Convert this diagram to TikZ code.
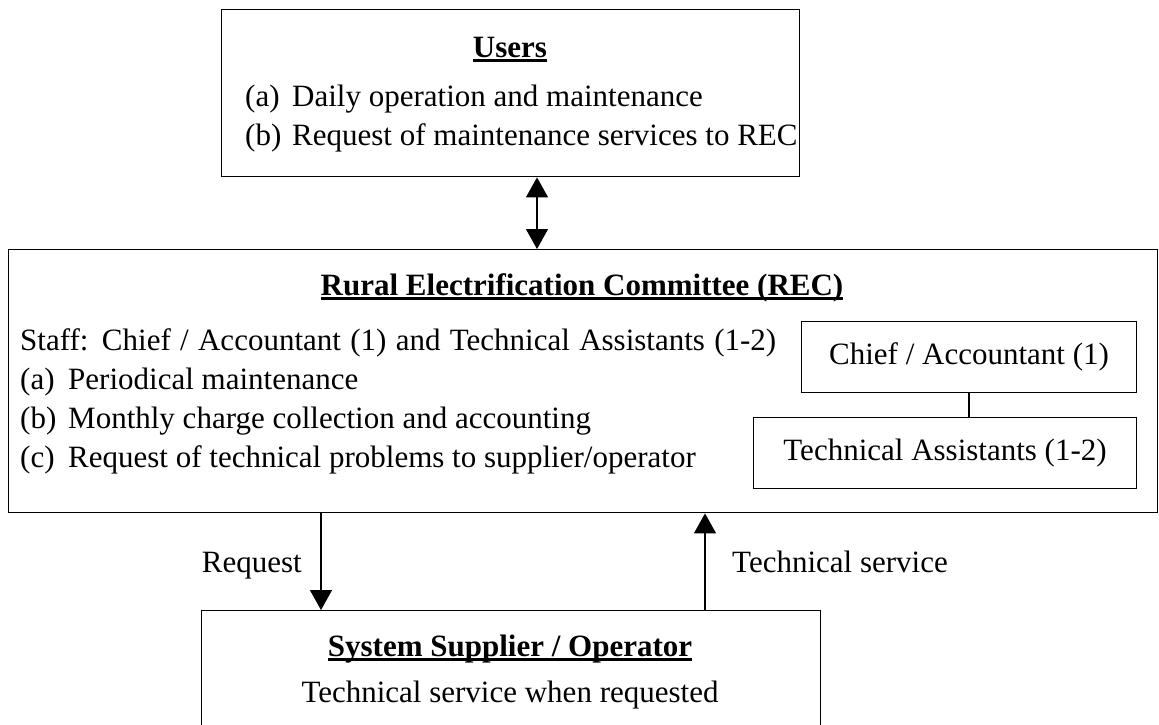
\documentclass[tikz,border=0pt]{standalone}
\usepackage{fontspec}
\setmainfont{Liberation Serif}
\usetikzlibrary{arrows.meta}
% bold heading with a heavy underline
\newcommand{\headline}[1]{\setbox0\hbox{\bfseries #1}\rlap{\rule[-5pt]{\wd0}{2.8pt}}\box0}
\begin{document}
\begin{tikzpicture}[x=1pt,y=-1pt,
  box/.style={draw,line width=1.4pt,inner sep=0pt,anchor=north west},
  txt/.style={inner sep=0pt,font=\fontsize{31}{38}\selectfont},
  conn/.style={line width=1.3pt},
  tip/.style={-{Triangle[width=22pt,length=20pt]}}]
\clip (0,0) rectangle (1159,724);
\fill[white] (0,0) rectangle (1159,724);

% Users
\node[box,minimum width=578pt,minimum height=167pt] (users) at (221,9) {};
\node[txt,anchor=base] (usersT) at (510,57) {\headline{Users}};
\node[txt,anchor=base west] (ua) at (245,106) {(a)};
\node[txt,anchor=base west] (uat) at (292,106) {Daily operation and maintenance};
\node[txt,anchor=base west] (ub) at (245,145) {(b)};
\node[txt,anchor=base west] (ubt) at (292,145) {Request of maintenance services to REC};

% Rural Electrification Committee
\node[box,minimum width=1149pt,minimum height=263pt] (rec) at (8,249) {};
\node[txt,anchor=base] (recT) at (582,295) {\headline{Rural Electrification Committee (REC)}};
\node[txt,anchor=base west] (staff) at (20,350)
  {\hbox to 756pt{Staff: Chief / Accountant (1) and Technical Assistants (1-2)}};
\node[txt,anchor=base west] (ra) at (20,389) {(a)};
\node[txt,anchor=base west] (rat) at (68,389) {Periodical maintenance};
\node[txt,anchor=base west] (rb) at (20,428) {(b)};
\node[txt,anchor=base west] (rbt) at (68,428) {Monthly charge collection and accounting};
\node[txt,anchor=base west] (rc) at (20,467) {(c)};
\node[txt,anchor=base west] (rct) at (68,467) {Request of technical problems to supplier/operator};

% staff chart inside the committee
\node[box,line width=1.1pt,minimum width=335pt,minimum height=71pt] (chief) at (801,321) {};
\node[txt] (chiefT) at (chief.center) {Chief / Accountant (1)};
\node[box,line width=1.1pt,minimum width=383pt,minimum height=71pt] (tech) at (753,417) {};
\node[txt] (techT) at (tech.center) {Technical Assistants (1-2)};
\draw[conn,line width=1.1pt] (chief.south -| 969,0) -- (tech.north -| 969,0);

% System supplier / operator
\node[box,minimum width=619pt,minimum height=150pt] (supp) at (201,610) {};
\node[txt,anchor=base] (suppT) at (510,656) {\headline{System Supplier / Operator}};
\node[txt,anchor=base] (suppL) at (510,702) {Technical service when requested};

% connectors
\draw[conn,{Triangle[width=22pt,length=20pt]}-{Triangle[width=22pt,length=20pt]}]
  (users.south -| 537,0) -- (rec.north -| 537,0);
\draw[conn,tip] (rec.south -| 321,0) -- (supp.north -| 321,0);
\draw[conn,tip] (supp.north -| 705,0) -- (rec.south -| 705,0);
\node[txt,anchor=base east] (reqL) at (302,572) {Request};
\node[txt,anchor=base west] (tsL) at (732,572) {Technical service};
\end{tikzpicture}
\end{document}
